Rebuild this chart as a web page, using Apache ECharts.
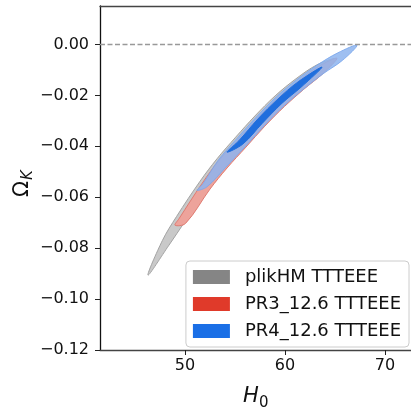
<!DOCTYPE html>
<html lang="en">
<head>
<meta charset="UTF-8">
<title>Omega_K vs H0</title>
<style>
    html, body { margin: 0; padding: 0; background: #fff; }
    #box { width: 411px; height: 408px; }
</style>
</head>
<body>
<div id="box"></div>
<script src="https://cdn.jsdelivr.net/npm/echarts@6/dist/echarts.min.js"></script>
<script>
    // contour outlines as [H0, Omega_K]
    var plikOuter = [
        [46.30, -0.0906], [47.74, -0.0770], [49.15, -0.0676], [51.51, -0.0537], [53.20, -0.0449],
        [55.07, -0.0364], [56.99, -0.0281], [59.01, -0.0202], [61.09, -0.0135], [63.20, -0.0080],
        [65.00, -0.0056], [63.61, -0.0103], [61.69, -0.0165], [59.70, -0.0231], [57.72, -0.0310],
        [55.82, -0.0392], [53.93, -0.0474], [52.24, -0.0560], [49.93, -0.0699], [48.40, -0.0788]
    ];
    var pr3Outer = [
        [49.00, -0.0710], [49.39, -0.0685], [51.72, -0.0545], [53.39, -0.0456], [55.30, -0.0373],
        [57.21, -0.0290], [59.23, -0.0211], [61.28, -0.0145], [63.33, -0.0087], [65.20, -0.0054],
        [63.80, -0.0114], [61.88, -0.0176], [59.96, -0.0243], [57.98, -0.0321], [56.10, -0.0403],
        [54.21, -0.0485], [52.50, -0.0568], [50.05, -0.0703]
    ];
    var pr4Outer = [
        [51.20, -0.0573], [51.80, -0.0547], [53.33, -0.0454], [55.20, -0.0369], [57.11, -0.0286],
        [59.13, -0.0206], [61.16, -0.0139], [63.22, -0.0081], [65.28, -0.0033], [67.20, -0.0003],
        [65.76, -0.0062], [63.82, -0.0115], [61.87, -0.0175], [59.91, -0.0241], [57.93, -0.0319],
        [56.03, -0.0401], [54.09, -0.0482], [52.20, -0.0559]
    ];
    var pr4Inner = [
        [54.20, -0.0423], [55.41, -0.0377], [57.28, -0.0293], [59.30, -0.0214], [61.31, -0.0147],
        [63.70, -0.0089], [61.69, -0.0165], [59.70, -0.0231], [57.72, -0.0310], [55.79, -0.0391]
    ];

    var legendNames = ['plikHM TTTEEE', 'PR3_12.6 TTTEEE', 'PR4_12.6 TTTEEE'];
    var legendColors = ['#858585', '#e03a2a', '#1a6fe6'];
    var xTicks = [50, 60, 70];
    var yTicks = [-0.12, -0.10, -0.08, -0.06, -0.04, -0.02, 0.00];
    var xMin = 41.5, xMax = 72.6;
    var yMin = -0.12, yMax = 0.0151;
    var zeroLine = [[xMin, 0], [xMax, 0]];

    var font = 'DejaVu Sans';

    function contour(name, pts, fill, stroke, alpha) {
        return {
            name: name,
            type: 'custom',
            coordinateSystem: 'cartesian2d',
            silent: true,
            itemStyle: { color: fill },
            data: pts,
            renderItem: function (params, api) {
                if (params.dataIndex !== 0) return null;
                var points = pts.map(function (p) { return api.coord(p); });
                return {
                    type: 'polygon',
                    shape: { points: points, smooth: 0.35 },
                    style: { fill: fill, stroke: stroke, lineWidth: 1, opacity: alpha }
                };
            }
        };
    }

    function yFmt(v) {
        return v < 0 ? '\u2212' + Math.abs(v).toFixed(2) : Math.abs(v).toFixed(2);
    }

    var box = echarts.init(document.getElementById('box'));
    var option = {
        animation: false,
        backgroundColor: '#fff',
        grid: { left: 100, right: 0, top: 6, bottom: 58 },
        xAxis: [{
            type: 'value',
            min: xMin,
            max: xMax,
            axisLine: { show: true, onZero: false, lineStyle: { color: '#444', width: 1.3 } },
            axisTick: { show: true, length: 5, customValues: xTicks, lineStyle: { color: '#222' } },
            axisLabel: { customValues: xTicks, color: '#111', fontFamily: font, fontSize: 16, margin: 8 },
            splitLine: { show: false }
        }, {
            type: 'value',
            position: 'top',
            min: xMin,
            max: xMax,
            axisLine: { show: true, onZero: false, lineStyle: { color: '#444', width: 1.3 } },
            axisTick: { show: false },
            axisLabel: { show: false },
            splitLine: { show: false }
        }],
        yAxis: {
            type: 'value',
            min: yMin,
            max: yMax,
            axisLine: { show: true, onZero: false, lineStyle: { color: '#111', width: 1.3 } },
            axisTick: { show: true, length: 5, customValues: yTicks, lineStyle: { color: '#222' } },
            axisLabel: { customValues: yTicks, formatter: yFmt, color: '#111', fontFamily: font, fontSize: 16, margin: 11 },
            splitLine: { show: false }
        },
        legend: {
            orient: 'vertical',
            right: 2,
            bottom: 61,
            icon: 'rect',
            itemWidth: 37,
            itemHeight: 14,
            itemGap: 7,
            padding: [6, 8, 6, 7],
            backgroundColor: 'rgba(255,255,255,0.85)',
            borderColor: '#cccccc',
            borderWidth: 1,
            borderRadius: 4,
            selectedMode: false,
            textStyle: { fontFamily: font, fontSize: 18, color: '#111', lineHeight: 20, padding: [0, 0, 0, 10] },
            data: legendNames.map(function (n, i) {
                return { name: n, itemStyle: { color: legendColors[i] } };
            })
        },
        graphic: [{
            type: 'text',
            left: 243,
            top: 386,
            style: { text: 'H', font: 'italic 21px "DejaVu Sans"', fill: '#111' }
        }, {
            type: 'text',
            left: 259,
            top: 396,
            style: { text: '0', font: '15px "DejaVu Sans"', fill: '#111' }
        }, {
            type: 'group',
            x: 12,
            y: 197,
            rotation: Math.PI / 2,
            children: [{
                type: 'text',
                x: 0,
                y: 0,
                style: { text: '\u03A9', font: '21px "DejaVu Sans"', fill: '#111', verticalAlign: 'top' }
            }, {
                type: 'text',
                x: 17,
                y: 9,
                style: { text: 'K', font: 'italic 15px "DejaVu Sans"', fill: '#111', verticalAlign: 'top' }
            }]
        }],
        series: [{
            name: 'zero',
            type: 'line',
            data: zeroLine,
            symbol: 'none',
            silent: true,
            lineStyle: { color: '#999', width: 1.4, type: [5, 2.5] }
        },
            contour(legendNames[0], plikOuter, '#c9c9c9', '#a3a3a3', 1),
            contour(legendNames[1], pr3Outer, '#eda39b', '#e07a70', 1),
            contour(legendNames[2], pr4Outer, '#8db4ee', '#7aa7ec', 0.85),
            contour(legendNames[2], pr4Inner, '#1f6edd', '#1f6edd', 1)
        ]
    };
    box.setOption(option);
</script>
</body>
</html>
